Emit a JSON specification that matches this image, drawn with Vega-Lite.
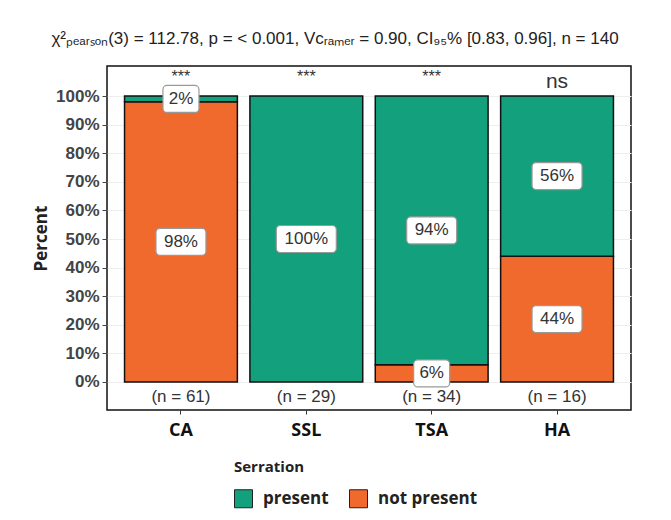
{
  "$schema": "https://vega.github.io/schema/vega-lite/v6.json",
  "width": 524,
  "height": 344,
  "autosize": {"type": "none"},
  "padding": {"left": 107, "top": 66, "right": 40, "bottom": 110},
  "background": "white",
  "title": {
    "text": "χ²ₚₑₐᵣₛₒₙ(3) = 112.78, p = < 0.001, Vᴄᵣₐₘₑᵣ = 0.90, CI₉₅% [0.83, 0.96], n = 140",
    "font": "Liberation Sans",
    "fontSize": 17,
    "fontWeight": "normal",
    "color": "#222222",
    "anchor": "middle",
    "dx": -34,
    "offset": 18
  },
  "datasets": {
    "bars": [
      {"category": "CA", "serration": "not present", "pct": 98},
      {"category": "CA", "serration": "present", "pct": 2},
      {"category": "SSL", "serration": "present", "pct": 100},
      {"category": "TSA", "serration": "not present", "pct": 6},
      {"category": "TSA", "serration": "present", "pct": 94},
      {"category": "HA", "serration": "not present", "pct": 44},
      {"category": "HA", "serration": "present", "pct": 56}
    ],
    "cats": [
      {"category": "CA", "n": 61, "sig": "***"},
      {"category": "SSL", "n": 29, "sig": "***"},
      {"category": "TSA", "n": 34, "sig": "***"},
      {"category": "HA", "n": 16, "sig": "ns"}
    ]
  },
  "encoding": {
    "x": {
      "field": "category",
      "type": "nominal",
      "sort": ["CA", "SSL", "TSA", "HA"],
      "scale": {"paddingInner": 0.1, "paddingOuter": 0.14},
      "axis": {
        "title": null,
        "labelAngle": 0,
        "labelFont": "Open Sans",
        "labelFontSize": 18,
        "labelFontWeight": "bold",
        "labelColor": "#111111",
        "labelPadding": 7,
        "tickSize": 4,
        "tickColor": "#333333",
        "domain": false
      }
    }
  },
  "layer": [
    {
      "data": {"name": "bars"},
      "transform": [
        {"stack": "pct", "groupby": ["category"], "sort": [{"field": "serration", "order": "ascending"}], "as": ["y0", "y1"]}
      ],
      "mark": {"type": "bar", "stroke": "#111111", "strokeWidth": 1.5},
      "encoding": {
        "y": {
          "field": "y0",
          "type": "quantitative",
          "scale": {"domain": [-9.8, 110.5], "nice": false, "zero": false},
          "axis": {"values": [0, 10, 20, 30, 40, 50, 60, 70, 80, 90, 100], "labelExpr": "datum.value + '%'", "title": "Percent"}
        },
        "y2": {"field": "y1"},
        "color": {
          "field": "serration",
          "type": "nominal",
          "scale": {"domain": ["present", "not present"], "range": ["#13a07c", "#ef6a2c"]},
          "legend": {
            "title": "Serration",
            "orient": "none",
            "direction": "horizontal",
            "legendX": 127,
            "legendY": 394,
            "padding": 0,
            "symbolType": "square",
            "symbolSize": 324,
            "symbolStrokeColor": "#222222",
            "symbolStrokeWidth": 1,
            "symbolOpacity": 1,
            "titleFont": "Open Sans",
            "titleFontSize": 15,
            "titleFontWeight": "bold",
            "titleColor": "#222222",
            "titlePadding": 14,
            "labelFont": "Open Sans",
            "labelFontSize": 17,
            "labelFontWeight": "bold",
            "labelColor": "#222222",
            "labelOffset": 10,
            "columnPadding": 18
          }
        }
      }
    },
    {
      "data": {"name": "bars"},
      "transform": [
        {"stack": "pct", "groupby": ["category"], "sort": [{"field": "serration", "order": "ascending"}], "as": ["y0", "y1"]},
        {"calculate": "(datum.y0 + datum.y1) / 2", "as": "mid"},
        {"calculate": "datum.pct + '%'", "as": "label"}
      ],
      "mark": {"type": "point", "filled": true, "fill": "white", "stroke": "#999999", "strokeWidth": 1.2, "opacity": 1, "size": 400},
      "encoding": {
        "y": {"field": "mid", "type": "quantitative", "axis": {"values": [0, 10, 20, 30, 40, 50, 60, 70, 80, 90, 100], "labelExpr": "datum.value + '%'", "title": "Percent"}},
        "shape": {
          "field": "label",
          "type": "nominal",
          "scale": {
            "domain": ["2%", "6%", "44%", "56%", "94%", "98%", "100%"],
            "range": [
              "M-1.4,-1.35H1.4A0.4,0.4,0,0,1,1.8,-0.95V0.95A0.4,0.4,0,0,1,1.4,1.35H-1.4A0.4,0.4,0,0,1,-1.8,0.95V-0.95A0.4,0.4,0,0,1,-1.4,-1.35Z",
              "M-1.4,-1.35H1.4A0.4,0.4,0,0,1,1.8,-0.95V0.95A0.4,0.4,0,0,1,1.4,1.35H-1.4A0.4,0.4,0,0,1,-1.8,0.95V-0.95A0.4,0.4,0,0,1,-1.4,-1.35Z",
              "M-2.1,-1.35H2.1A0.4,0.4,0,0,1,2.5,-0.95V0.95A0.4,0.4,0,0,1,2.1,1.35H-2.1A0.4,0.4,0,0,1,-2.5,0.95V-0.95A0.4,0.4,0,0,1,-2.1,-1.35Z",
              "M-2.1,-1.35H2.1A0.4,0.4,0,0,1,2.5,-0.95V0.95A0.4,0.4,0,0,1,2.1,1.35H-2.1A0.4,0.4,0,0,1,-2.5,0.95V-0.95A0.4,0.4,0,0,1,-2.1,-1.35Z",
              "M-2.1,-1.35H2.1A0.4,0.4,0,0,1,2.5,-0.95V0.95A0.4,0.4,0,0,1,2.1,1.35H-2.1A0.4,0.4,0,0,1,-2.5,0.95V-0.95A0.4,0.4,0,0,1,-2.1,-1.35Z",
              "M-2.1,-1.35H2.1A0.4,0.4,0,0,1,2.5,-0.95V0.95A0.4,0.4,0,0,1,2.1,1.35H-2.1A0.4,0.4,0,0,1,-2.5,0.95V-0.95A0.4,0.4,0,0,1,-2.1,-1.35Z",
              "M-2.6,-1.35H2.6A0.4,0.4,0,0,1,3,-0.95V0.95A0.4,0.4,0,0,1,2.6,1.35H-2.6A0.4,0.4,0,0,1,-3,0.95V-0.95A0.4,0.4,0,0,1,-2.6,-1.35Z"
            ]
          },
          "legend": null
        }
      }
    },
    {
      "data": {"name": "bars"},
      "transform": [
        {"stack": "pct", "groupby": ["category"], "sort": [{"field": "serration", "order": "ascending"}], "as": ["y0", "y1"]},
        {"calculate": "(datum.y0 + datum.y1) / 2", "as": "mid"},
        {"calculate": "datum.pct + '%'", "as": "label"}
      ],
      "mark": {"type": "text", "font": "Liberation Sans", "fontSize": 17, "color": "#333333", "baseline": "middle", "align": "center"},
      "encoding": {
        "y": {"field": "mid", "type": "quantitative", "axis": {"values": [0, 10, 20, 30, 40, 50, 60, 70, 80, 90, 100], "labelExpr": "datum.value + '%'", "title": "Percent"}},
        "text": {"field": "label", "type": "nominal"}
      }
    },
    {
      "data": {"name": "cats"},
      "transform": [{"calculate": "'(n = ' + datum.n + ')'", "as": "nlabel"}],
      "mark": {"type": "text", "font": "Liberation Sans", "fontSize": 17, "color": "#333333", "baseline": "middle", "align": "center"},
      "encoding": {
        "y": {"datum": -5.2, "type": "quantitative", "axis": {"values": [0, 10, 20, 30, 40, 50, 60, 70, 80, 90, 100], "labelExpr": "datum.value + '%'", "title": "Percent"}},
        "text": {"field": "nlabel", "type": "nominal"}
      }
    },
    {
      "data": {"name": "cats"},
      "transform": [{"filter": "datum.sig == '***'"}],
      "mark": {"type": "text", "font": "Liberation Sans", "fontSize": 16, "color": "#333333", "baseline": "middle", "align": "center"},
      "encoding": {
        "y": {"datum": 106.8, "type": "quantitative", "axis": {"values": [0, 10, 20, 30, 40, 50, 60, 70, 80, 90, 100], "labelExpr": "datum.value + '%'", "title": "Percent"}},
        "text": {"field": "sig", "type": "nominal"}
      }
    },
    {
      "data": {"name": "cats"},
      "transform": [{"filter": "datum.sig == 'ns'"}],
      "mark": {"type": "text", "font": "Liberation Sans", "fontSize": 21, "color": "#333333", "baseline": "middle", "align": "center"},
      "encoding": {
        "y": {"datum": 104.8, "type": "quantitative", "axis": {"values": [0, 10, 20, 30, 40, 50, 60, 70, 80, 90, 100], "labelExpr": "datum.value + '%'", "title": "Percent"}},
        "text": {"field": "sig", "type": "nominal"}
      }
    }
  ],
  "config": {
    "view": {"stroke": "#111111", "strokeWidth": 1.5},
    "font": "Liberation Sans",
    "axisY": {
      "labelOverlap": false,
      "titleFont": "Open Sans",
      "titleFontSize": 17,
      "titleFontWeight": "bold",
      "titleColor": "#222222",
      "titlePadding": 5,
      "labelFont": "Liberation Sans",
      "labelFontSize": 17,
      "labelFontWeight": "bold",
      "labelColor": "#444444",
      "labelPadding": 3,
      "tickColor": "#444444",
      "tickSize": 5,
      "domain": false,
      "grid": true,
      "gridColor": "#eeeeee"
    }
  }
}
